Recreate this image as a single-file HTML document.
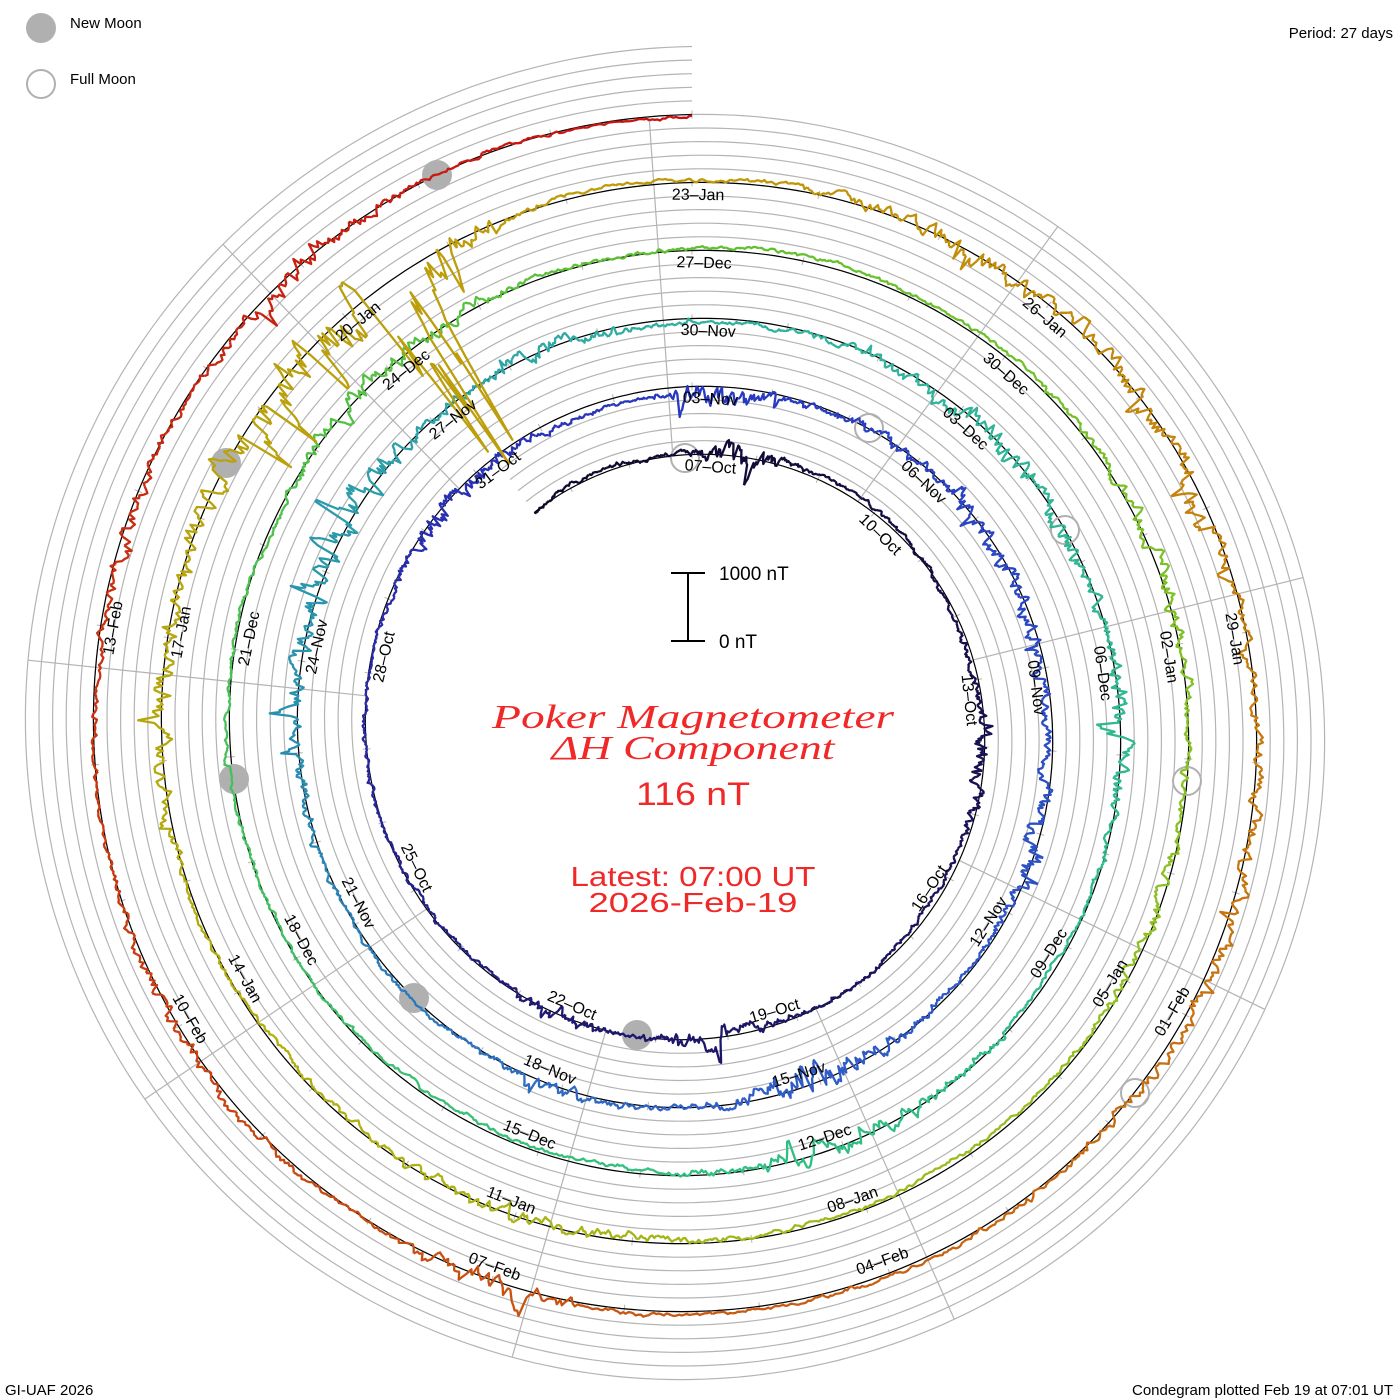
<!DOCTYPE html>
<html><head><meta charset="utf-8"><style>
html,body{margin:0;padding:0;background:#fff;}
svg{display:block;}
text{font-family:"Liberation Sans",sans-serif;}
text.serif{font-family:"Liberation Serif",serif;}
</style></head><body>
<svg id="s" width="1400" height="1400" viewBox="0 0 1400 1400" xmlns="http://www.w3.org/2000/svg">
<rect width="1400" height="1400" fill="#fff"/>
<g id="grid"></g>
<g id="base"></g>
<g id="moons">
<circle cx="437" cy="175" r="15" fill="#b0b0b0"/>
<circle cx="226" cy="463" r="15" fill="#b0b0b0"/>
<circle cx="234" cy="779" r="15" fill="#b0b0b0"/>
<circle cx="414" cy="998" r="15" fill="#b0b0b0"/>
<circle cx="637" cy="1035" r="15" fill="#b0b0b0"/>
<circle cx="685" cy="458" r="14" fill="none" stroke="#b0b0b0" stroke-width="2"/>
<circle cx="869" cy="428" r="14" fill="none" stroke="#b0b0b0" stroke-width="2"/>
<circle cx="1065" cy="530" r="14" fill="none" stroke="#b0b0b0" stroke-width="2"/>
<circle cx="1187" cy="781" r="14" fill="none" stroke="#b0b0b0" stroke-width="2"/>
<circle cx="1135" cy="1093" r="14" fill="none" stroke="#b0b0b0" stroke-width="2"/>
</g>
<g id="trace"></g>
<g id="labels" font-size="16" fill="#000"></g>
<circle cx="41" cy="28" r="15" fill="#b0b0b0"/>
<circle cx="41" cy="84" r="14" fill="none" stroke="#b0b0b0" stroke-width="2"/>
<text x="70" y="28" font-size="15">New Moon</text>
<text x="70" y="84" font-size="15">Full Moon</text>
<text x="1393" y="38" font-size="15" text-anchor="end">Period: 27 days</text>
<text x="5" y="1395" font-size="15">GI-UAF 2026</text>
<text x="1393" y="1395" font-size="15" text-anchor="end">Condegram plotted Feb 19 at 07:01 UT</text>
<g stroke="#000" stroke-width="2">
<line x1="688" y1="573" x2="688" y2="641"/>
<line x1="671" y1="573" x2="705" y2="573"/>
<line x1="671" y1="641" x2="705" y2="641"/>
</g>
<text x="719" y="580" font-size="19">1000 nT</text>
<text x="719" y="648" font-size="19">0 nT</text>
<g fill="#f02828" text-anchor="middle">
<text class="serif" x="693" y="728" font-size="34" font-style="italic" textLength="402" lengthAdjust="spacingAndGlyphs">Poker Magnetometer</text>
<text class="serif" x="693" y="759" font-size="34" font-style="italic" textLength="283" lengthAdjust="spacingAndGlyphs">ΔH Component</text>
<text x="693" y="805" font-size="32" textLength="114" lengthAdjust="spacingAndGlyphs">116 nT</text>
<text x="693" y="886" font-size="28" textLength="245" lengthAdjust="spacingAndGlyphs">Latest: 07:00 UT</text>
<text x="693" y="912" font-size="28" textLength="209" lengthAdjust="spacingAndGlyphs">2026-Feb-19</text>
</g>
</svg>
<script>
(function(){
var cx=692,cy=730,R0=275.5,P=68,PS=-36,PE=1800;
function rb(p){return R0+P*p/360;}
function xy(r,p){var t=p*Math.PI/180;return [cx+r*Math.sin(t),cy-r*Math.cos(t)];}
function f(n){return n.toFixed(1);}
var g='';
for(var j=1;j<=5;j++){var d='';for(var p=PS;p<=PE;p+=1){var q=xy(rb(p)+j*13.6,p);d+=(p==PS?'M':'L')+f(q[0])+','+f(q[1]);}
g+='<path d="'+d+'" fill="none" stroke="#b4b4b4" stroke-width="1.2"/>';}
for(var m=0;m<9;m++){var a=-4+40*m;var q1=xy(rb(a),a),q2=xy(rb(a+1800),a);
g+='<line x1="'+f(q1[0])+'" y1="'+f(q1[1])+'" x2="'+f(q2[0])+'" y2="'+f(q2[1])+'" stroke="#b4b4b4" stroke-width="1.2"/>';}
for(var dd=-2;dd<=135;dd++){var p=dd*360/27;if(p<PS||p>PE)continue;var r=rb(p);var a1=xy(r-4,p),a2=xy(r+4,p);
g+='<line x1="'+f(a1[0])+'" y1="'+f(a1[1])+'" x2="'+f(a2[0])+'" y2="'+f(a2[1])+'" stroke="#b4b4b4" stroke-width="1"/>';}
document.getElementById('grid').innerHTML=g;
var d='';for(var p=PS;p<=PE;p+=1){var q=xy(rb(p),p);d+=(p==PS?'M':'L')+f(q[0])+','+f(q[1]);}
document.getElementById('base').innerHTML='<path d="'+d+'" fill="none" stroke="#000" stroke-width="1.2"/>';
var mons=['Oct','Nov','Dec','Jan','Feb'],ml=[31,30,31,31,28];
var lab='';var day=7,mi=0;
for(var k=0;k<=43;k++){
 var pc=40*k+4-4*k/43;var r=rb(pc)-13;var q=xy(r,pc);var a=((pc%360)+360)%360;var rot=a;if(a>90&&a<=270)rot=a-180;else if(a>270)rot=a-360;
 var s=(day<10?'0':'')+day+'\u2013'+mons[mi];
 lab+='<text x="'+f(q[0])+'" y="'+f(q[1])+'" text-anchor="middle" dominant-baseline="central" transform="rotate('+rot.toFixed(1)+' '+f(q[0])+' '+f(q[1])+')">'+s+'</text>';
 day+=3;if(day>ml[mi]){day-=ml[mi];mi++;}
}
document.getElementById('labels').innerHTML=lab;
var st=[[-36,'#10082a'],[200,'#1e1870'],[280,'#2a2aa8'],[360,'#2838c0'],[540,'#3060c8'],[630,'#2890b0'],[720,'#30b0a0'],[900,'#30c080'],[1080,'#60c030'],[1200,'#90c020'],[1300,'#b0b010'],[1440,'#c09808'],[1560,'#c87010'],[1640,'#c85010'],[1800,'#c81010']];
function hx(h){return [parseInt(h.substr(1,2),16),parseInt(h.substr(3,2),16),parseInt(h.substr(5,2),16)];}
function col(p){for(var i=0;i<st.length-1;i++){if(p<=st[i+1][0]){var t=(p-st[i][0])/(st[i+1][0]-st[i][0]);var a=hx(st[i][1]),b=hx(st[i+1][1]);return 'rgb('+Math.round(a[0]+(b[0]-a[0])*t)+','+Math.round(a[1]+(b[1]-a[1])*t)+','+Math.round(a[2]+(b[2]-a[2])*t)+')';}}return st[st.length-1][1];}
var seed=7;function rnd(){seed|=0;seed=seed+0x6D2B79F5|0;var t=Math.imul(seed^seed>>>15,1|seed);t=t+Math.imul(t^t>>>7,61|t)^t;return((t^t>>>14)>>>0)/4294967296;}
var S=[[10,8,12,-0.4],[95,12,8,-0.2],[175,10,10,0.3],[205,8,6,0],[315,15,10,-0.2],[365,8,15,-0.5],[420,30,8,0],[470,10,10,0.2],[520,15,12,-0.2],[560,10,6,0],[640,20,10,0.2],[665,15,12,0.2],[700,10,8,0],[770,25,10,0],[810,10,12,0],[880,15,10,0],[1040,15,10,0.2],[1150,15,8,0],[1190,15,6,0],[1280,20,6,0.1],[1355,15,12,0.1],[1385,12,22,-0.5],[1405,10,38,-0.6],[1470,15,10,0],[1500,15,10,-0.2],[1550,25,8,0],[1640,8,12,0.4],[1680,15,6,0],[1730,10,8,0.1],[1760,10,10,-0.2]];
var pts=[],slow=0,e=0,spk=0;
for(var p=PS;p<=PE;p+=0.25){
 var A=2.2,B=0;for(var i=0;i<S.length;i++){var z=(p-S[i][0])/S[i][1];var w=Math.exp(-z*z);A+=S[i][2]*w;B+=S[i][3]*w;}
 slow=0.995*slow+(rnd()-0.5)*1.0;if(slow>8)slow=8;if(slow<-8)slow=-8;
 e=0.6*e+(rnd()-0.5)*A*1.2;
 spk*=0.75;if(rnd()<0.01+A*0.003)spk+=(rnd()-0.5+B)*A*3;
 var v=slow+e+spk;
 pts.push([p,xy(rb(p)+v,p)]);
}
var tr='';
for(var i=0;i<pts.length-1;i+=8){var d='';for(var j=i;j<=Math.min(i+8,pts.length-1);j++){d+=(j==i?'M':'L')+f(pts[j][1][0])+','+f(pts[j][1][1]);}
tr+='<path d="'+d+'" fill="none" stroke="'+col(pts[i][0])+'" stroke-width="2.3" stroke-linejoin="round"/>';}
document.getElementById('trace').innerHTML=tr;
})();
</script>
</body></html>
